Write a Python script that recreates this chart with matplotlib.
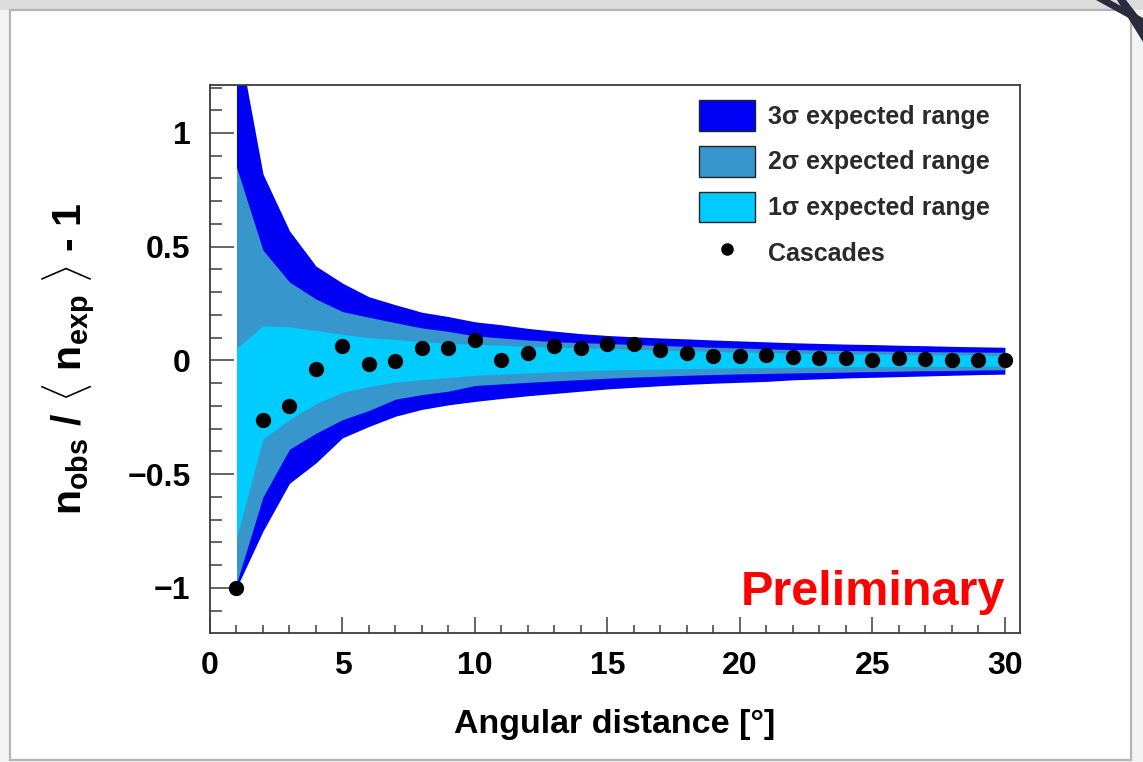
import matplotlib
matplotlib.use("Agg")
import matplotlib.pyplot as plt
from matplotlib.patches import Rectangle, Polygon
from matplotlib.lines import Line2D
from matplotlib.ticker import MultipleLocator, FuncFormatter

# Angular distance bins [deg]
angle = list(range(1, 31))

# Expected-range bands for the relative excess n_obs/<n_exp> - 1
upper_3sigma = [1.45, 0.82, 0.57, 0.415, 0.34, 0.28, 0.245, 0.212, 0.193, 0.170,
                0.157, 0.141, 0.129, 0.118, 0.110, 0.104, 0.099, 0.095, 0.090, 0.086,
                0.082, 0.078, 0.075, 0.072, 0.070, 0.067, 0.065, 0.062, 0.060, 0.058]
upper_2sigma = [0.85, 0.485, 0.345, 0.27, 0.215, 0.19, 0.166, 0.143, 0.128, 0.108,
                0.099, 0.090, 0.083, 0.078, 0.075, 0.070, 0.066, 0.062, 0.058, 0.055,
                0.051, 0.048, 0.046, 0.044, 0.042, 0.040, 0.039, 0.038, 0.037, 0.036]
upper_1sigma = [0.054, 0.152, 0.148, 0.132, 0.115, 0.100, 0.093, 0.083, 0.076, 0.071,
                0.067, 0.063, 0.059, 0.056, 0.053, 0.049, 0.046, 0.043, 0.040, 0.037,
                0.035, 0.033, 0.031, 0.029, 0.028, 0.026, 0.025, 0.024, 0.023, 0.022]
lower_1sigma = [-0.78, -0.345, -0.26, -0.19, -0.14, -0.115, -0.095, -0.085, -0.075, -0.065,
                -0.060, -0.055, -0.050, -0.046, -0.042, -0.040, -0.038, -0.036, -0.034, -0.032,
                -0.031, -0.030, -0.029, -0.028, -0.027, -0.027, -0.026, -0.026, -0.025, -0.025]
lower_2sigma = [-0.98, -0.60, -0.39, -0.32, -0.26, -0.22, -0.17, -0.15, -0.135, -0.11,
                -0.103, -0.096, -0.090, -0.084, -0.078, -0.073, -0.069, -0.065, -0.062, -0.059,
                -0.057, -0.055, -0.053, -0.051, -0.049, -0.047, -0.045, -0.044, -0.042, -0.041]
lower_3sigma = [-1.0, -0.75, -0.54, -0.45, -0.34, -0.29, -0.245, -0.215, -0.195, -0.18,
                -0.167, -0.155, -0.145, -0.135, -0.125, -0.118, -0.111, -0.105, -0.100, -0.096,
                -0.092, -0.085, -0.081, -0.077, -0.074, -0.071, -0.068, -0.065, -0.062, -0.060]

# Observed cascades
cascades = [-1.0, -0.26, -0.20, -0.037, 0.062, -0.016, -0.004, 0.054, 0.054, 0.088,
            0.003, 0.032, 0.062, 0.054, 0.073, 0.074, 0.045, 0.032, 0.018, 0.018,
            0.025, 0.016, 0.010, 0.010, 0.003, 0.010, 0.008, 0.003, 0.003, 0.0]

band_labels = ["3\u03c3 expected range", "2\u03c3 expected range", "1\u03c3 expected range"]
point_label = "Cascades"

C3 = "#0000f5"
C2 = "#3796cc"
C1 = "#00ccff"

plt.rcParams["font.family"] = ["Liberation Sans", "DejaVu Sans"]
plt.rcParams["font.weight"] = "bold"
plt.rcParams["mathtext.fontset"] = "custom"
plt.rcParams["mathtext.default"] = "rm"
plt.rcParams["mathtext.rm"] = "Liberation Sans"
plt.rcParams["mathtext.it"] = "Liberation Sans:bold"
plt.rcParams["mathtext.bf"] = "Liberation Sans:bold"

W, H = 1143, 762
fig = plt.figure(figsize=(W / 100, H / 100), dpi=100)
fig.patch.set_facecolor("#f3f3f3")

def fx(px):
    return px / W

def fy(py):
    return 1 - py / H

# slide card with a soft border
fig.patches.append(Rectangle((fx(0), fy(10)), 1, 10 / H, transform=fig.transFigure,
                             facecolor="#dcdcdc", edgecolor="none", zorder=0))
fig.patches.append(Rectangle((fx(10), fy(760)), (1131 - 10) / W, (760 - 10) / H,
                             transform=fig.transFigure, facecolor="white",
                             edgecolor="#b5b5b5", linewidth=1.6, zorder=1))
# corner decoration
for pts in ([(1096, 0), (1110, 0), (1143, 18), (1143, 26)],
            [(1117, 0), (1126, 0), (1143, 22), (1143, 42)]):
    fig.patches.append(Polygon([(fx(a), fy(b)) for a, b in pts], closed=True,
                               transform=fig.transFigure, facecolor="#2a2b3d",
                               edgecolor="none", zorder=2))

ax = fig.add_axes([fx(210), fy(633), fx(1020) - fx(210), fy(85) - fy(633)])
ax.set_zorder(3)
ax.set_facecolor("white")

ax.fill_between(angle, lower_3sigma, upper_3sigma, color=C3, linewidth=0, zorder=1)
ax.fill_between(angle, lower_2sigma, upper_2sigma, color=C2, linewidth=0, zorder=2)
ax.fill_between(angle, lower_1sigma, upper_1sigma, color=C1, linewidth=0, zorder=3)
ax.plot(angle, cascades, linestyle="none", marker="o", markersize=10,
        color="black", zorder=5, clip_on=False)

ax.set_xlim(0, 30.57)
ax.set_ylim(-1.198, 1.211)

ax.xaxis.set_major_locator(MultipleLocator(5))
ax.xaxis.set_minor_locator(MultipleLocator(1))
ax.yaxis.set_major_locator(MultipleLocator(0.5))
ax.yaxis.set_minor_locator(MultipleLocator(0.1))
ax.yaxis.set_major_formatter(FuncFormatter(
    lambda v, p: ("\u2212" if v < 0 else "") + ("%g" % abs(v))))

frame_c = "#3c3c3c"
for s in ax.spines.values():
    s.set_color(frame_c)
    s.set_linewidth(1.3)
    s.set_zorder(6)

ax.tick_params(axis="x", which="major", direction="in", length=11.5, width=1.1,
               color=frame_c, labelsize=23, pad=13, top=False)
ax.tick_params(axis="x", which="minor", direction="in", length=5.8, width=1.1,
               color=frame_c, top=False)
ax.tick_params(axis="y", which="major", direction="in", length=17.3, width=1.1,
               color=frame_c, labelsize=23, pad=14, right=False)
ax.tick_params(axis="y", which="minor", direction="in", length=8.6, width=1.1,
               color=frame_c, right=False)
for lab in ax.get_xticklabels() + ax.get_yticklabels():
    lab.set_fontweight("bold")

ax.set_xlabel("Angular distance [\u00b0]", fontsize=24.5, fontweight="bold", labelpad=20)
ax.set_ylabel(r"$\mathbf{n}_{\mathbf{obs}}\ /\ \langle\ \mathbf{n}_{\mathbf{exp}}\ \rangle$ - 1",
              fontsize=29.5, fontweight="bold", labelpad=22)

handles = [Rectangle((0, 0), 1, 1, facecolor=C3, edgecolor="#222222", linewidth=1.0),
           Rectangle((0, 0), 1, 1, facecolor=C2, edgecolor="#222222", linewidth=1.0),
           Rectangle((0, 0), 1, 1, facecolor=C1, edgecolor="#222222", linewidth=1.0),
           Line2D([], [], linestyle="none", marker="o", markersize=8, color="black")]
leg = ax.legend(handles, band_labels + [point_label], loc="upper left",
                bbox_to_anchor=((699 - 210) / 810, 1 - (100 - 85) / 548),
                frameon=False, prop={"size": 18, "weight": "bold"},
                handlelength=2.24, handleheight=1.52, labelspacing=0.6,
                handletextpad=0.52, borderaxespad=0, borderpad=0)
for t in leg.get_texts():
    t.set_color("#2a2a2a")

ax.text(30.0, -1.075, "Preliminary", color="#ff0000", fontsize=35, fontweight="bold",
        ha="right", va="baseline", zorder=7)

fig.savefig("out.png", dpi=100, facecolor=fig.get_facecolor())
